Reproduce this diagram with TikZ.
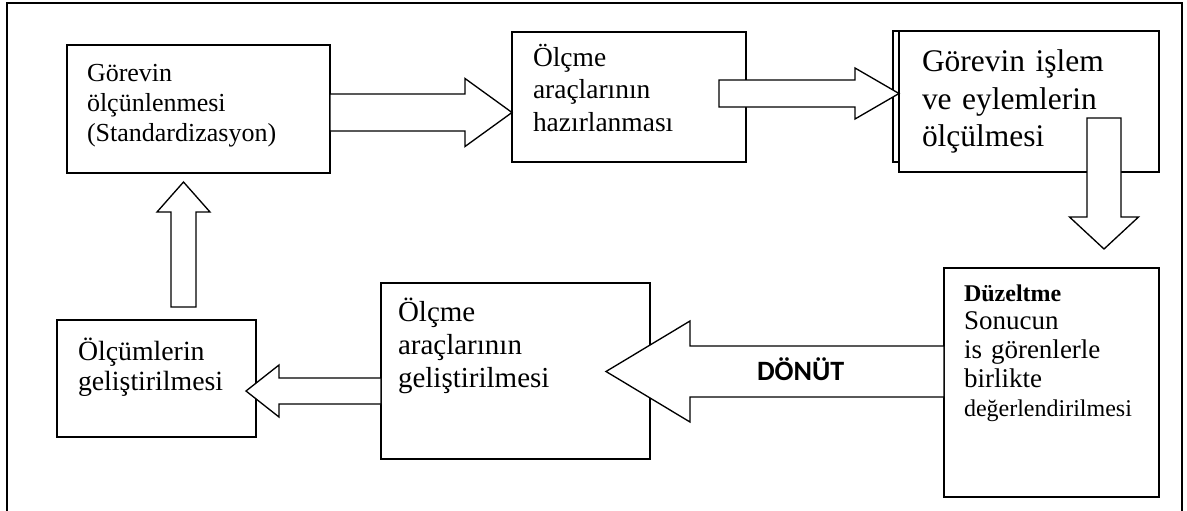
\documentclass[tikz,border=0pt]{standalone}
\usepackage{fontspec}
\setmainfont{Liberation Serif}
\newfontfamily\calibrifont{Carlito}
\usetikzlibrary{calc,fit}
\tikzset{
  boxnode/.style={draw=black, line width=1pt, fill=white, inner sep=0pt, outer sep=0pt},
  blk/.style={draw=black, line width=1pt, fill=white, line join=miter},
  frameline/.style={draw=black, line width=1.5pt},
  txt/.style={inner sep=0pt, outer sep=0pt, text width=8cm, align=left, anchor=base west},
}
\newcommand\blockarrow[5]{%
  \path ($(#2)!#5*0.75pt!(#1)$) coordinate (bh);
  \draw[blk] ($(#1)!#3*0.75pt!90:(#2)$) -- ($(bh)!#3*0.75pt!90:(#2)$) -- ($(bh)!#4*0.75pt!90:(#2)$) -- (#2) -- ($(bh)!#4*0.75pt!-90:(#2)$) -- ($(bh)!#3*0.75pt!-90:(#2)$) -- ($(#1)!#3*0.75pt!-90:(#2)$) -- cycle;}
\begin{document}
\begin{tikzpicture}[x=0.75pt,y=-0.75pt]
\useasboundingbox (0,0) rectangle (1187,510);
% frame
\draw[frameline] (7,512) -- (7,3) -- (1182,3) -- (1182,512);
% box corners
\path (67,45) coordinate (b1nw) (330,173) coordinate (b1se);
\path (512,32) coordinate (b2nw) (746,162) coordinate (b2se);
\path (893,31) coordinate (b3bnw) (1150,162) coordinate (b3bse);
\path (899,31) coordinate (b3nw) (1159,172) coordinate (b3se);
\path (944,268) coordinate (b4nw) (1159,497) coordinate (b4se);
\path (381,283) coordinate (b5nw) (650,459) coordinate (b5se);
\path (57,320) coordinate (b6nw) (256,437) coordinate (b6se);
% boxes
\node[boxnode, fit=(b1nw)(b1se)] (b1) {};
\node[boxnode, fit=(b2nw)(b2se)] (b2) {};
\node[boxnode, fit=(b3bnw)(b3bse)] (b3back) {};
\node[boxnode, fit=(b3nw)(b3se)] (b3) {};
\node[boxnode, fit=(b4nw)(b4se)] (b4) {};
\node[boxnode, fit=(b5nw)(b5se)] (b5) {};
\node[boxnode, fit=(b6nw)(b6se)] (b6) {};
% connector ends
\coordinate (a1s) at ($(b1.east)+(0,3.5)$);
\coordinate (a1e) at ($(b2.west)+(0,15.5)$);
\coordinate (a2s) at ($(b2.east)+(-27,-3.5)$);
\coordinate (a2e) at ($(b3.west)+(0,-8)$);
\coordinate (a3s) at ($(b3.south)+(75,-54)$);
\coordinate (a3e) at ($(b4.north)+(52.5,-19)$);
\coordinate (a4s) at ($(b4.west)+(0,-11)$);
\coordinate (a4e) at ($(b5.east)+(-44,0.5)$);
\coordinate (a5s) at ($(b5.west)+(0,20)$);
\coordinate (a5e) at ($(b6.east)+(-10,12.5)$);
\coordinate (a6s) at ($(b6.north)+(27,-13)$);
\coordinate (a6e) at ($(b1.south)+(-15,9)$);
% block arrows
\blockarrow{a1s}{a1e}{18.5}{34}{47}
\blockarrow{a2s}{a2e}{13.5}{25.5}{44}
\blockarrow{a3s}{a3e}{17}{34.5}{32}
\blockarrow{a4s}{a4e}{25.5}{50.5}{84}
\blockarrow{a5s}{a5e}{13}{26}{33}
\blockarrow{a6s}{a6e}{12.5}{26.5}{30}
% texts
\node[txt, font=\fontsize{19.5pt}{22.5pt}\selectfont] (t1) at (87,81) {Görevin\\ölçünlenmesi\\(Standardizasyon)};
\node[txt, font=\fontsize{20.6pt}{24pt}\selectfont] (t2) at (533,67) {Ölçme\\araçlarının\\hazırlanması};
\node[txt, font=\fontsize{23.6pt}{28.1pt}\selectfont] (t3) at (922,72) {Görevin işlem\\ve eylemlerin\\ölçülmesi};
\node[txt, font=\fontsize{20.25pt}{21.6pt}\selectfont] (t4) at (964,301) {{\fontsize{18pt}{21.6pt}\selectfont\bfseries Düzeltme}\\Sonucun\\is görenlerle\\birlikte\\{\fontsize{18pt}{21.6pt}\selectfont değerlendirilmesi}};
\node[txt, font=\fontsize{21.75pt}{24.75pt}\selectfont] (t5) at (398,321) {Ölçme\\araçlarının\\geliştirilmesi};
\node[txt, font=\fontsize{20.85pt}{22.5pt}\selectfont] (t6) at (78,360) {Ölçümlerin\\geliştirilmesi};
\node[txt, font=\calibrifont\bfseries\fontsize{21pt}{24pt}\selectfont] (dn) at (757,380) {DÖNÜT};
\end{tikzpicture}
\end{document}
